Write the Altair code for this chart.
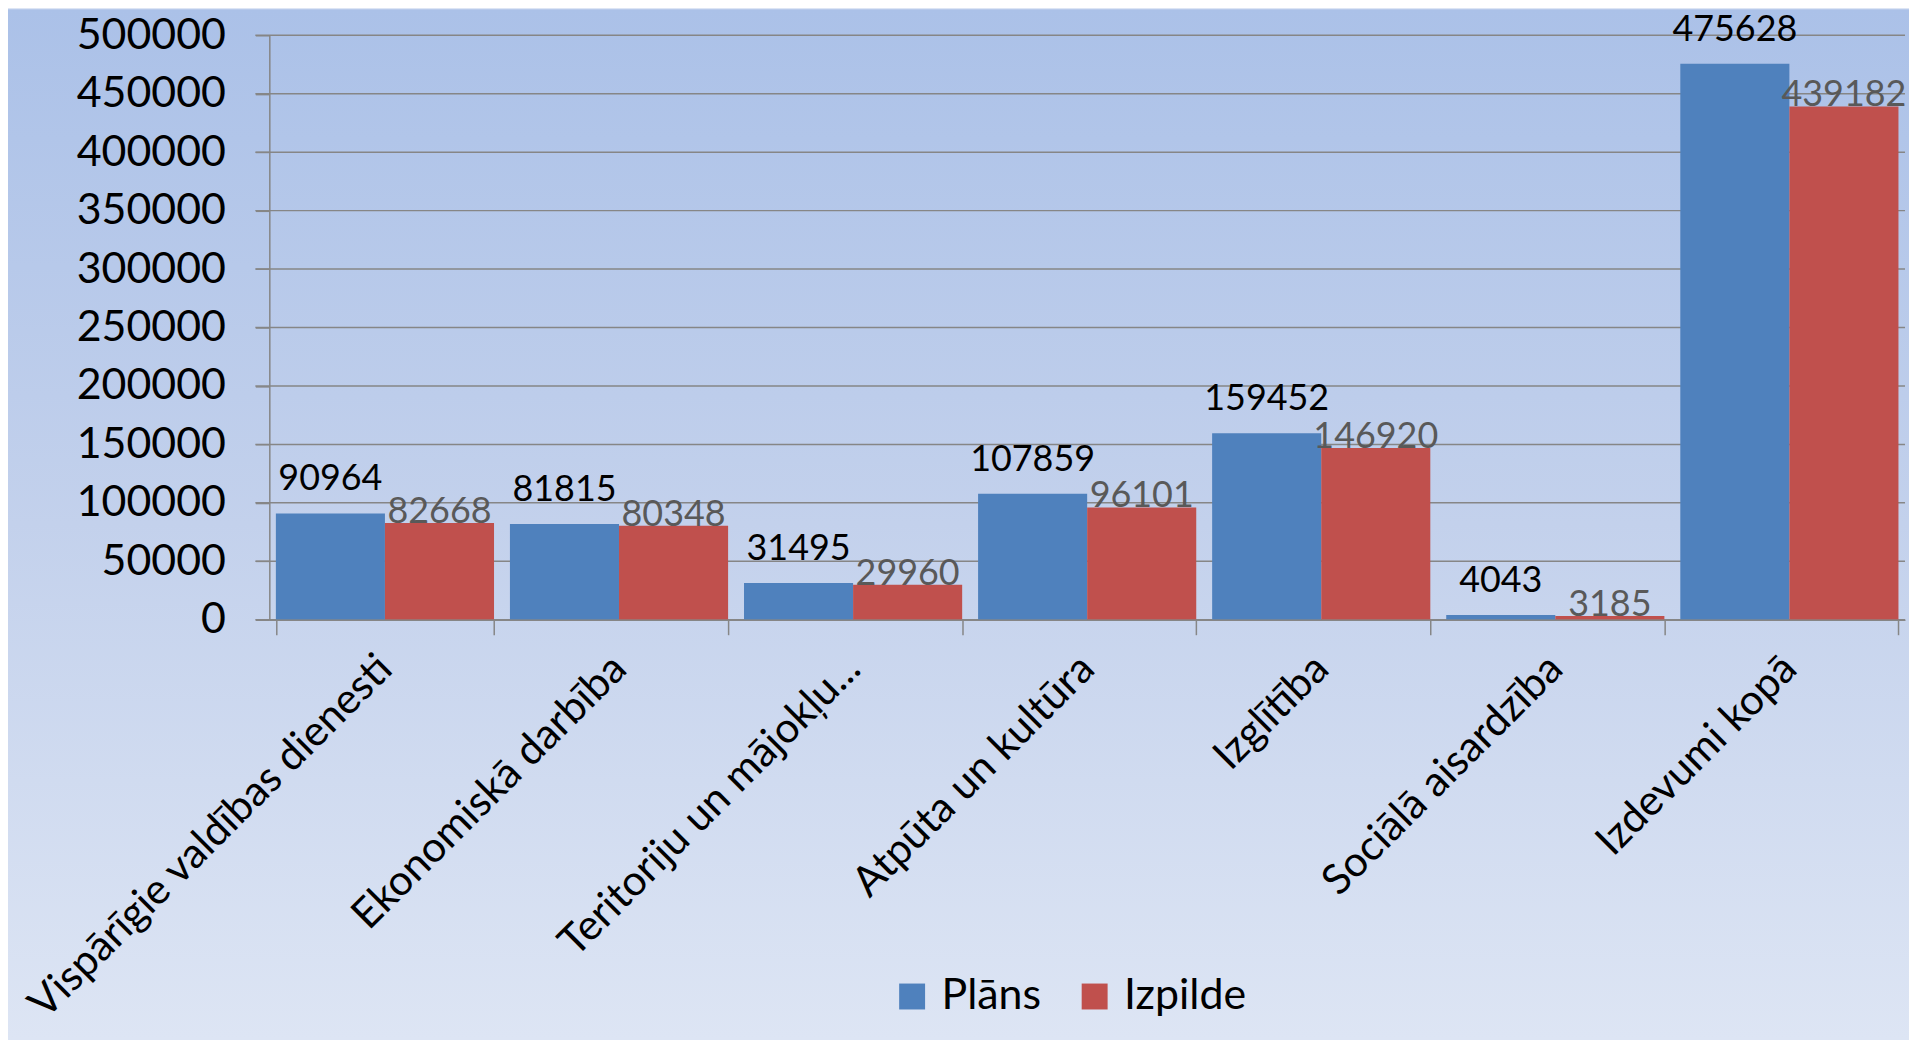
import altair as alt
import pandas as pd

categories = ["Vispārīgie valdības dienesti", "Ekonomiskā darbība", "Teritoriju un mājokļu...",
              "Atpūta un kultūra", "Izglītība", "Sociālā aisardzība", "Izdevumi kopā"]
plans = [90964, 81815, 31495, 107859, 159452, 4043, 475628]
izpilde = [82668, 80348, 29960, 96101, 146920, 3185, 439182]
series = ["Plāns", "Izpilde"]
colors = ["#4f81bd", "#c0504d"]
y_ticks = list(range(0, 500001, 50000))

rows = []
for c, p, i in zip(categories, plans, izpilde):
    rows.append({"cat": c, "series": "Plāns", "value": p})
    rows.append({"cat": c, "series": "Izpilde", "value": i})
df = pd.DataFrame(rows)
grid_df = pd.DataFrame({"value": y_ticks})

W, H = 1640, 586
LEFT, TOP = 262, 26
TOTAL_W, TOTAL_H = 1906, 1032
FONT = "Lato"
GRAY = "#868686"

bg = alt.Chart(pd.DataFrame({"a": [0]})).mark_rect(
    color=alt.LinearGradient(
        gradient="linear",
        stops=[alt.GradientStop(color="#abc1e8", offset=0),
               alt.GradientStop(color="#c3d1ec", offset=0.5),
               alt.GradientStop(color="#dde5f4", offset=1)],
        x1=0, x2=0, y1=0, y2=1),
).encode(
    x=alt.value(-LEFT), x2=alt.value(TOTAL_W - LEFT),
    y=alt.value(-TOP), y2=alt.value(TOTAL_H - TOP),
)

y_scale = alt.Scale(domain=[0, 500000], nice=False)

grid = alt.Chart(grid_df).mark_rule(color=GRAY, strokeWidth=1.5).encode(
    y=alt.Y("value:Q", scale=y_scale),
    x=alt.value(-14), x2=alt.value(W),
)

x_enc = alt.X("cat:N", sort=categories,
              scale=alt.Scale(paddingInner=0.068, paddingOuter=0.028),
              axis=alt.Axis(title=None, labelAngle=-45, labelAlign="right", labelBaseline="middle",
                            labelFont=FONT, labelFontSize=42, labelColor="black",
                            labelPadding=27, tickBand="extent", tickSize=15,
                            tickColor=GRAY, tickWidth=1.5, domainColor=GRAY,
                            domainWidth=1.5, grid=False, labelLimit=0, zindex=1))
xo_enc = alt.XOffset("series:N", sort=series, scale=alt.Scale(paddingInner=0, paddingOuter=0))
y_enc = alt.Y("value:Q", scale=y_scale,
              axis=alt.Axis(title=None, values=y_ticks, format="d", labelFont=FONT,
                            labelFontSize=43, labelColor="black", labelPadding=30,
                            tickSize=14, tickColor=GRAY, tickWidth=1.5,
                            domainColor=GRAY, domainWidth=1.5, grid=False, zindex=1))

bars = alt.Chart(df).mark_bar().encode(
    x=x_enc, xOffset=xo_enc, y=y_enc,
    color=alt.Color("series:N", sort=series,
                    scale=alt.Scale(domain=series, range=colors),
                    legend=alt.Legend(title=None, orient="none", direction="horizontal",
                                      legendX=623, legendY=942, symbolType="square",
                                      symbolSize=676, symbolStrokeWidth=0,
                                      labelFont=FONT, labelFontSize=43, labelColor="black",
                                      labelOffset=8, columnPadding=32, padding=0)),
)

lab_plan = alt.Chart(df).transform_filter(alt.datum.series == "Plāns").mark_text(
    font=FONT, fontSize=36, color="black", baseline="alphabetic", dy=-23
).encode(x=x_enc, xOffset=xo_enc, y=y_enc, text=alt.Text("value:Q", format="d"))

lab_izp = alt.Chart(df).transform_filter(alt.datum.series == "Izpilde").mark_text(
    font=FONT, fontSize=36, color="#595959", baseline="alphabetic", dy=0
).encode(x=x_enc, xOffset=xo_enc, y=y_enc, text=alt.Text("value:Q", format="d"))

chart = alt.layer(bg, grid, bars, lab_plan, lab_izp).properties(
    width=W, height=H, padding=0, autosize=alt.AutoSizeParams(type="pad"),
    background="#dde5f4",
).configure_view(stroke=None)

chart.save("out.html", embed_options={"renderer": "svg", "actions": False})
